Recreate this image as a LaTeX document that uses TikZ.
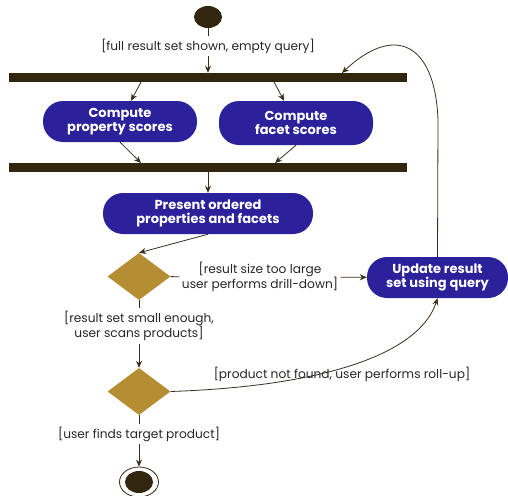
\documentclass[tikz,border=0pt]{standalone}
\usepackage{fontspec}
\setmainfont{Poppins}
\usepackage{tikz}
\usetikzlibrary{arrows.meta}
\usetikzlibrary{shapes}
\definecolor{actblue}{HTML}{2A219B}
\definecolor{decgold}{HTML}{B58D33}
\definecolor{barbrown}{HTML}{33260F}
\definecolor{linebrown}{HTML}{3A2E1A}
\tikzset{activity/.style={draw=none,fill=actblue,text=white,rounded corners=20pt,
   minimum height=41pt,align=center,font=\fontsize{13}{14}\selectfont\bfseries,inner sep=2pt},
 decision/.style={diamond,fill=decgold,minimum width=63pt,minimum height=47pt,inner sep=0pt},
 syncbar/.style={fill=barbrown,minimum width=398pt,minimum height=9pt,inner sep=0pt},
 guard/.style={align=center,font=\fontsize{12.2}{14}\selectfont,text=black!85,inner sep=2.5pt},
 flow/.style={draw=linebrown,line width=0.8pt},
 arr/.style={flow,-{Stealth[length=7pt,width=6pt]}},
 initial/.style={ellipse,fill=barbrown,minimum width=28pt,minimum height=22pt,inner sep=0pt},
 finalring/.style={ellipse,draw=barbrown,line width=0.8pt,fill=white,minimum width=39pt,minimum height=30pt,inner sep=0pt},
 }

\begin{document}
\begin{tikzpicture}[x=1pt,y=-1pt]
    \useasboundingbox (0,0) rectangle (508,495);
    % start and fork
    \node[initial] (start) at (208,17) {};
    \node[guard] (g0) at (208,46) {[full result set shown, empty query]};
    \node[syncbar] (fork) at (208,77.5) {};
    \coordinate (fa) at (141,82);
    \coordinate (fb) at (274,82);
    \coordinate (fc) at (342,73);
    \draw[flow] (start) -- (g0);
    \draw[arr] (g0) -- (fork);
    % parallel activities
    \node[activity,minimum width=154pt] (propsc) at (120,121.5) {Compute\\property scores};
    \node[activity,minimum width=154pt,minimum height=44pt] (facsc) at (296,123) {Compute\\facet scores};
    \draw[arr] (fa) -- (propsc);
    \draw[arr] (fb) -- (facsc);
    \node[syncbar] (join) at (208,167.5) {};
    \coordinate (ja) at (141,163);
    \coordinate (jb) at (275,163);
    \draw[arr] (propsc.south) -- (ja);
    \draw[arr] (facsc.south) -- (jb);
    \node[activity,minimum width=210pt] (present) at (208,213.5) {Present ordered\\properties and facets};
    \draw[arr] (join) -- (present);
    % first decision
    \node[decision] (dsize) at (139,276.5) {};
    \draw[arr] (present.south) -- (dsize.north);
    \node[activity,minimum width=141pt] (update) at (437.5,277.5) {Update result\\set using query};
    \node[guard] (g1) at (260,277) {[result size too large\\user performs drill-down]};
    \draw[flow] (dsize) -- (g1);
    \draw[arr] (g1) -- (update);
    \draw[arr] (update.north) -- (438,120) .. controls (435,42) and (394,24) .. (fc);
    \node[guard] (g2) at (139,326) {[result set small enough,\\user scans products]};
    \draw[flow] (dsize) -- (g2);
    % second decision
    \node[decision] (dfind) at (139,391.5) {};
    \draw[arr] (g2) -- (dfind);
    \node[guard] (g4) at (342,374) {[product not found, user performs roll-up]};
    \draw[arr] (dfind.east) .. controls (330,386) and (420,352) .. (update.south);
    \node[guard] (g3) at (139,434) {[user finds target product]};
    \draw[flow] (dfind) -- (g3);
    % end
    \node[finalring] (stop) at (139,482) {};
    \node[initial] (stopdot) at (stop) {};
    \draw[arr] (g3) -- (stop);
\end{tikzpicture}
\end{document}
